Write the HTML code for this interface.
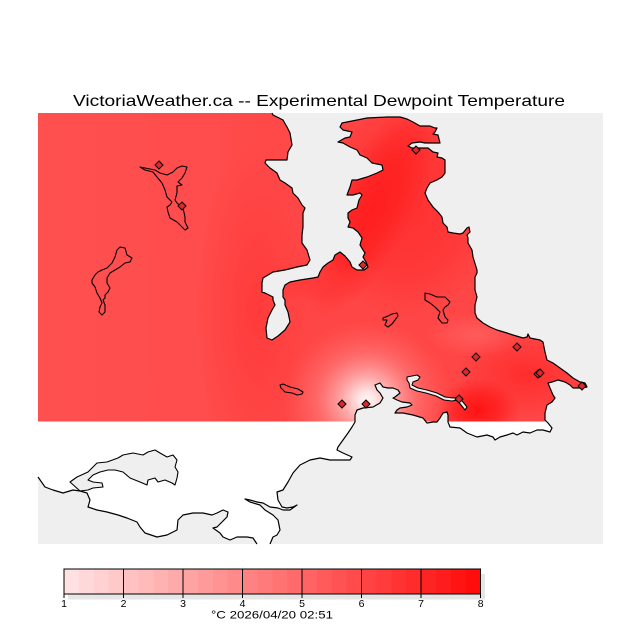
<!DOCTYPE html>
<html><head><meta charset="utf-8"><style>
html,body{margin:0;padding:0;background:#fff;}
svg{display:block;}
text{font-family:"Liberation Sans",sans-serif;fill:#000;}
</style></head><body>
<svg width="640" height="640" viewBox="0 0 640 640" xmlns="http://www.w3.org/2000/svg">
<defs>
  <clipPath id="dc"><rect x="38" y="113" width="565" height="308.5"/></clipPath>
  <linearGradient id="base" x1="38" y1="0" x2="320" y2="0" gradientUnits="userSpaceOnUse">
    <stop offset="0" stop-color="rgb(255,80,80)"/>
    <stop offset="0.6" stop-color="rgb(255,76,76)"/>
    <stop offset="1" stop-color="rgb(255,70,70)"/>
  </linearGradient>
  <radialGradient id="band"><stop offset="0" stop-color="rgb(255,55,55)" stop-opacity="0.8"/><stop offset="1" stop-color="rgb(255,55,55)" stop-opacity="0"/></radialGradient>
  <radialGradient id="pen"><stop offset="0" stop-color="rgb(255,45,45)" stop-opacity="0.9"/><stop offset="0.6" stop-color="rgb(255,50,50)" stop-opacity="0.7"/><stop offset="1" stop-color="rgb(255,55,55)" stop-opacity="0"/></radialGradient>
  <radialGradient id="saan"><stop offset="0" stop-color="rgb(255,30,30)" stop-opacity="1"/><stop offset="0.5" stop-color="rgb(255,34,34)" stop-opacity="0.8"/><stop offset="1" stop-color="rgb(255,40,40)" stop-opacity="0"/></radialGradient>
  <radialGradient id="rlow"><stop offset="0" stop-color="rgb(255,42,42)" stop-opacity="0.9"/><stop offset="1" stop-color="rgb(255,42,42)" stop-opacity="0"/></radialGradient>
  <radialGradient id="dark"><stop offset="0" stop-color="rgb(255,18,18)" stop-opacity="1"/><stop offset="0.5" stop-color="rgb(255,28,28)" stop-opacity="0.75"/><stop offset="1" stop-color="rgb(255,30,30)" stop-opacity="0"/></radialGradient>
  <radialGradient id="lite"><stop offset="0" stop-color="rgb(255,100,100)" stop-opacity="0.7"/><stop offset="1" stop-color="rgb(255,100,100)" stop-opacity="0"/></radialGradient>
  <radialGradient id="hot">
    <stop offset="0" stop-color="rgb(255,245,245)" stop-opacity="1"/>
    <stop offset="0.1" stop-color="rgb(255,228,228)" stop-opacity="1"/>
    <stop offset="0.3" stop-color="rgb(255,170,170)" stop-opacity="0.95"/>
    <stop offset="0.6" stop-color="rgb(255,120,120)" stop-opacity="0.65"/>
    <stop offset="1" stop-color="rgb(255,95,95)" stop-opacity="0"/>
  </radialGradient>
  <clipPath id="land"><polygon id="landpoly" points="38,113 272,113 273,115 283,120 287,127 290,133 292,145 288,152 287,160 276,160 266,160 265,163 270,168 277,173 280,180 285,183 292,188 293,193 298,198 302,205 305,208 303,213 303,227 302,235 302,243 307,250 310,260 307,265 297,267 285,270 273,272 268,275 263,278 262,283 262,292 265,293 273,297 273,300 275,305 272,310 268,318 266,328 267,338 272,340 278,336 285,330 290,322 288,312 285,305 285,300 283,297 283,290 285,285 290,282 300,280 313,278 318,277 320,272 323,267 328,263 333,260 335,255 340,252 345,256 350,262 352,267 357,270 364,270 368,267 366,262 363,257 365,253 363,250 360,245 362,238 360,235 358,232 353,228 348,227 350,222 348,218 348,213 352,210 357,208 359,200 362,195 360,193 353,195 347,195 350,187 352,180 357,180 367,177 377,173 383,170 382,165 372,163 367,158 360,155 357,150 350,147 343,143 338,142 345,138 350,137 352,132 343,130 340,127 342,123 357,120 367,118 387,117 400,117 407,119 413,122 420,126 430,126 435,128 437,128 435,132 433,134 438,135 440,143 437,143 425,143 420,142 412,143 408,146 412,148 420,148 428,148 433,152 438,153 437,157 442,158 445,160 445,167 445,173 442,177 437,180 430,183 427,188 425,193 428,200 433,207 438,212 442,217 443,223 447,227 448,232 453,233 460,234 463,233 467,228 469,227 470,232 467,235 468,238 468,243 472,250 473,257 477,270 477,273 475,277 475,290 477,297 475,305 475,313 477,318 483,323 490,327 497,330 507,333 513,335 523,338 527,337 528,334 530,338 540,340 543,342 545,352 547,360 553,363 560,368 567,373 573,378 580,382 585,383 587,387 582,388 573,388 570,385 565,382 558,380 552,382 548,383 550,388 553,395 555,398 552,402 547,405 545,413 545,420 548,423 552,428 550,432 543,430 537,430 530,433 523,432 517,435 513,433 507,435 500,437 495,440 493,437 487,435 477,437 467,433 460,428 450,427 448,422 448,415 447,412 443,413 440,418 437,422 433,422 427,423 423,418 413,415 403,413 395,413 397,410 400,408 407,407 412,405 410,403 402,402 397,400 393,398 395,397 400,393 398,390 393,388 388,388 383,387 380,383 375,385 377,390 380,393 383,398 380,403 373,407 363,408 357,410 355,415 355,422 352,427 348,433 343,440 338,447 337,450 343,453 352,457 350,460 330,460 320,458 310,460 300,465 293,473 288,482 283,490 277,492 278,500 282,507 287,508 293,507 297,505 290,510 283,510 278,508 270,507 263,503 257,502 250,500 245,499 250,502 260,505 265,510 273,515 278,520 280,530 277,535 273,537 270,544 257,544 253,538 247,537 237,537 230,540 223,537 220,533 213,528 217,527 222,522 227,517 228,512 223,510 217,513 212,515 203,513 193,513 183,515 178,520 177,530 167,535 157,537 145,533 140,527 137,522 127,518 118,515 107,512 97,510 88,507 90,500 87,493 80,491 73,490 63,493 53,490 45,487 38,477"/></clipPath>
</defs>

<!-- title -->
<text x="73" y="106" font-size="16" textLength="492" lengthAdjust="spacingAndGlyphs">VictoriaWeather.ca -- Experimental Dewpoint Temperature</text>

<!-- plot box (water) -->
<rect x="38" y="113" width="565" height="431" fill="#efefef"/>

<!-- land (white, no data) -->
<use href="#landpoly" fill="#ffffff"/>

<!-- data field on land -->
<g clip-path="url(#dc)">
  <g clip-path="url(#land)">
    <rect x="38" y="113" width="565" height="309" fill="url(#base)"/>
    <ellipse cx="255" cy="310" rx="60" ry="170" fill="url(#band)"/>
    <ellipse cx="405" cy="205" rx="95" ry="115" fill="url(#pen)"/>
    <ellipse cx="0" cy="0" rx="42" ry="120" fill="url(#saan)" transform="translate(372,210) rotate(28)"/>
    <ellipse cx="310" cy="282" rx="60" ry="22" fill="url(#band)"/>
    <ellipse cx="525" cy="375" rx="70" ry="45" fill="url(#rlow)"/>
    <ellipse cx="475" cy="335" rx="50" ry="22" fill="url(#lite)"/>
    <ellipse cx="478" cy="410" rx="42" ry="32" fill="url(#dark)"/>
    <ellipse cx="367" cy="400" rx="85" ry="80" fill="url(#hot)"/>
  </g>
</g>

<!-- Sooke basin (water) -->
<polygon points="70,482 77,477 88,472 97,463 107,462 118,458 123,455 133,453 143,455 148,452 155,450 160,453 167,457 173,455 177,460 175,467 178,472 177,478 175,485 172,483 165,480 158,482 155,478 148,480 147,485 140,482 130,478 123,472 115,470 108,470 100,472 93,475 88,480 93,482 102,483 103,487 93,488 88,490 80,491" fill="#efefef" stroke="#000" stroke-width="1.1" stroke-linejoin="round"/>

<!-- coastline -->
<polyline fill="none" stroke="#000" stroke-width="1.2" stroke-linejoin="round" points="272,113 273,115 283,120 287,127 290,133 292,145 288,152 287,160 276,160 266,160 265,163 270,168 277,173 280,180 285,183 292,188 293,193 298,198 302,205 305,208 303,213 303,227 302,235 302,243 307,250 310,260 307,265 297,267 285,270 273,272 268,275 263,278 262,283 262,292 265,293 273,297 273,300 275,305 272,310 268,318 266,328 267,338 272,340 278,336 285,330 290,322 288,312 285,305 285,300 283,297 283,290 285,285 290,282 300,280 313,278 318,277 320,272 323,267 328,263 333,260 335,255 340,252 345,256 350,262 352,267 357,270 364,270 368,267 366,262 363,257 365,253 363,250 360,245 362,238 360,235 358,232 353,228 348,227 350,222 348,218 348,213 352,210 357,208 359,200 362,195 360,193 353,195 347,195 350,187 352,180 357,180 367,177 377,173 383,170 382,165 372,163 367,158 360,155 357,150 350,147 343,143 338,142 345,138 350,137 352,132 343,130 340,127 342,123 357,120 367,118 387,117 400,117 407,119 413,122 420,126 430,126 435,128 437,128 435,132 433,134 438,135 440,143 437,143 425,143 420,142 412,143 408,146 412,148 420,148 428,148 433,152 438,153 437,157 442,158 445,160 445,167 445,173 442,177 437,180 430,183 427,188 425,193 428,200 433,207 438,212 442,217 443,223 447,227 448,232 453,233 460,234 463,233 467,228 469,227 470,232 467,235 468,238 468,243 472,250 473,257 477,270 477,273 475,277 475,290 477,297 475,305 475,313 477,318 483,323 490,327 497,330 507,333 513,335 523,338 527,337 528,334 530,338 540,340 543,342 545,352 547,360 553,363 560,368 567,373 573,378 580,382 585,383 587,387 582,388 573,388 570,385 565,382 558,380 552,382 548,383 550,388 553,395 555,398 552,402 547,405 545,413 545,420 548,423 552,428 550,432 543,430 537,430 530,433 523,432 517,435 513,433 507,435 500,437 495,440 493,437 487,435 477,437 467,433 460,428 450,427 448,422 448,415 447,412 443,413 440,418 437,422 433,422 427,423 423,418 413,415 403,413 395,413 397,410 400,408 407,407 412,405 410,403 402,402 397,400 393,398 395,397 400,393 398,390 393,388 388,388 383,387 380,383 375,385 377,390 380,393 383,398 380,403 373,407 363,408 357,410 355,415 355,422 352,427 348,433 343,440 338,447 337,450 343,453 352,457 350,460 330,460 320,458 310,460 300,465 293,473 288,482 283,490 277,492 278,500 282,507 287,508 293,507 297,505 290,510 283,510 278,508 270,507 263,503 257,502 250,500 245,499 250,502 260,505 265,510 273,515 278,520 280,530 277,535 273,537 270,544"/>
<polyline fill="none" stroke="#000" stroke-width="1.2" stroke-linejoin="round" points="257,544 253,538 247,537 237,537 230,540 223,537 220,533 213,528 217,527 222,522 227,517 228,512 223,510 217,513 212,515 203,513 193,513 183,515 178,520 177,530 167,535 157,537 145,533 140,527 137,522 127,518 118,515 107,512 97,510 88,507 90,500 87,493 80,491 73,490 63,493 53,490 45,487 38,477"/>

<!-- lakes / small features -->
<g fill="none" stroke="#000" stroke-width="1.1" stroke-linejoin="round">
  <polygon points="140,167 145,168 155,170 160,173 167,175 173,172 177,168 182,166 187,167 185,173 182,178 178,182 182,185 177,186 177,193 175,200 177,203 183,208 185,217 185,222 188,228 185,230 182,227 177,222 170,218 168,212 167,207 170,205 172,202 167,197 165,190 162,183 157,177 153,172 145,170"/>
  <polygon points="120,247 125,248 127,255 132,258 130,262 125,263 120,267 115,270 110,273 107,278 107,283 110,288 108,292 105,295 105,298 103,300 105,305 105,312 102,315 99,312 100,307 102,303 100,298 97,293 95,287 92,283 92,280 95,275 98,272 102,270 107,268 112,263 115,257 117,250"/>
  <polygon points="280,385 283,384 290,387 298,389 303,392 302,394 297,395 292,393 285,392 281,388"/>
  <polygon points="383,318 388,316 392,314 397,313 398,316 395,320 392,324 388,327 385,325 387,320 383,320"/>
  <polygon points="425,293 430,294 437,297 445,297 450,302 448,305 445,307 443,310 445,317 448,320 447,323 442,323 438,318 440,312 435,307 430,303 425,300"/>
  <polygon fill="#efefef" points="407,380 407,377 417,375 420,377 418,380 413,382 412,385 418,388 427,390 437,393 445,397 453,398 458,397 463,402 467,407 465,410 461,405 457,400 452,401 444,400 436,396 426,393 417,391 410,388 409,383"/>
</g>

<!-- station markers -->
<g fill="rgb(225,40,40)" stroke="#000" stroke-width="1">
  <polygon points="159,161 163,165 159,169 155,165"/>
  <polygon points="182,202 186,206 182,210 178,206"/>
  <polygon points="416,146 420,150 416,154 412,150"/>
  <polygon points="363,261 367,265 363,269 359,265"/>
  <polygon points="342,400 346,404 342,408 338,404"/>
  <polygon points="366,400 370,404 366,408 362,404"/>
  <polygon points="476,353 480,357 476,361 472,357"/>
  <polygon points="517,343 521,347 517,351 513,347"/>
  <polygon points="466,368 470,372 466,376 462,372"/>
  <polygon points="538,370 542,374 538,378 534,374"/>
  <polygon points="540,369 544,373 540,377 536,373"/>
  <polygon points="582,382 586,386 582,390 578,386"/>
  <polygon points="459,395 463,399 459,403 455,399"/>
</g>

<!-- colorbar -->
<rect x="68" y="574" width="417" height="25.5" fill="#e6e6e6"/>
<g shape-rendering="crispEdges">
  <rect x="64.0" y="569" width="15.4" height="25" fill="rgb(255,225,225)"/>
  <rect x="78.9" y="569" width="15.4" height="25" fill="rgb(255,217,217)"/>
  <rect x="93.8" y="569" width="15.4" height="25" fill="rgb(255,209,209)"/>
  <rect x="108.6" y="569" width="15.4" height="25" fill="rgb(255,201,201)"/>
  <rect x="123.5" y="569" width="15.4" height="25" fill="rgb(255,193,193)"/>
  <rect x="138.4" y="569" width="15.4" height="25" fill="rgb(255,186,186)"/>
  <rect x="153.3" y="569" width="15.4" height="25" fill="rgb(255,178,178)"/>
  <rect x="168.2" y="569" width="15.4" height="25" fill="rgb(255,170,170)"/>
  <rect x="183.0" y="569" width="15.4" height="25" fill="rgb(255,162,162)"/>
  <rect x="197.9" y="569" width="15.4" height="25" fill="rgb(255,154,154)"/>
  <rect x="212.8" y="569" width="15.4" height="25" fill="rgb(255,146,146)"/>
  <rect x="227.7" y="569" width="15.4" height="25" fill="rgb(255,138,138)"/>
  <rect x="242.6" y="569" width="15.4" height="25" fill="rgb(255,130,130)"/>
  <rect x="257.4" y="569" width="15.4" height="25" fill="rgb(255,122,122)"/>
  <rect x="272.3" y="569" width="15.4" height="25" fill="rgb(255,115,115)"/>
  <rect x="287.2" y="569" width="15.4" height="25" fill="rgb(255,107,107)"/>
  <rect x="302.1" y="569" width="15.4" height="25" fill="rgb(255,99,99)"/>
  <rect x="317.0" y="569" width="15.4" height="25" fill="rgb(255,91,91)"/>
  <rect x="331.8" y="569" width="15.4" height="25" fill="rgb(255,83,83)"/>
  <rect x="346.7" y="569" width="15.4" height="25" fill="rgb(255,75,75)"/>
  <rect x="361.6" y="569" width="15.4" height="25" fill="rgb(255,67,67)"/>
  <rect x="376.5" y="569" width="15.4" height="25" fill="rgb(255,59,59)"/>
  <rect x="391.4" y="569" width="15.4" height="25" fill="rgb(255,51,51)"/>
  <rect x="406.2" y="569" width="15.4" height="25" fill="rgb(255,44,44)"/>
  <rect x="421.1" y="569" width="15.4" height="25" fill="rgb(255,36,36)"/>
  <rect x="436.0" y="569" width="15.4" height="25" fill="rgb(255,28,28)"/>
  <rect x="450.9" y="569" width="15.4" height="25" fill="rgb(255,20,20)"/>
  <rect x="465.8" y="569" width="14.9" height="25" fill="rgb(255,12,12)"/>
  <rect x="64" y="569" width="416.7" height="25" fill="none" stroke="#000" stroke-width="1"/>
  <g stroke="#000" stroke-width="1">
    <line x1="123.5" y1="569" x2="123.5" y2="598"/>
    <line x1="183" y1="569" x2="183" y2="598"/>
    <line x1="242.6" y1="569" x2="242.6" y2="598"/>
    <line x1="302.1" y1="569" x2="302.1" y2="598"/>
    <line x1="361.6" y1="569" x2="361.6" y2="598"/>
    <line x1="421.1" y1="569" x2="421.1" y2="598"/>
    <line x1="64" y1="594" x2="64" y2="598"/>
    <line x1="480.7" y1="594" x2="480.7" y2="598"/>
  </g>
</g>
<g font-size="10.5" text-anchor="middle">
  <text x="64" y="607">1</text>
  <text x="123.5" y="607">2</text>
  <text x="183" y="607">3</text>
  <text x="242.6" y="607">4</text>
  <text x="302.1" y="607">5</text>
  <text x="361.6" y="607">6</text>
  <text x="421.1" y="607">7</text>
  <text x="480.7" y="607">8</text>
</g>
<text x="211" y="618.5" font-size="11" textLength="122" lengthAdjust="spacingAndGlyphs">°C  2026/04/20 02:51</text>
</svg>
</body></html>
